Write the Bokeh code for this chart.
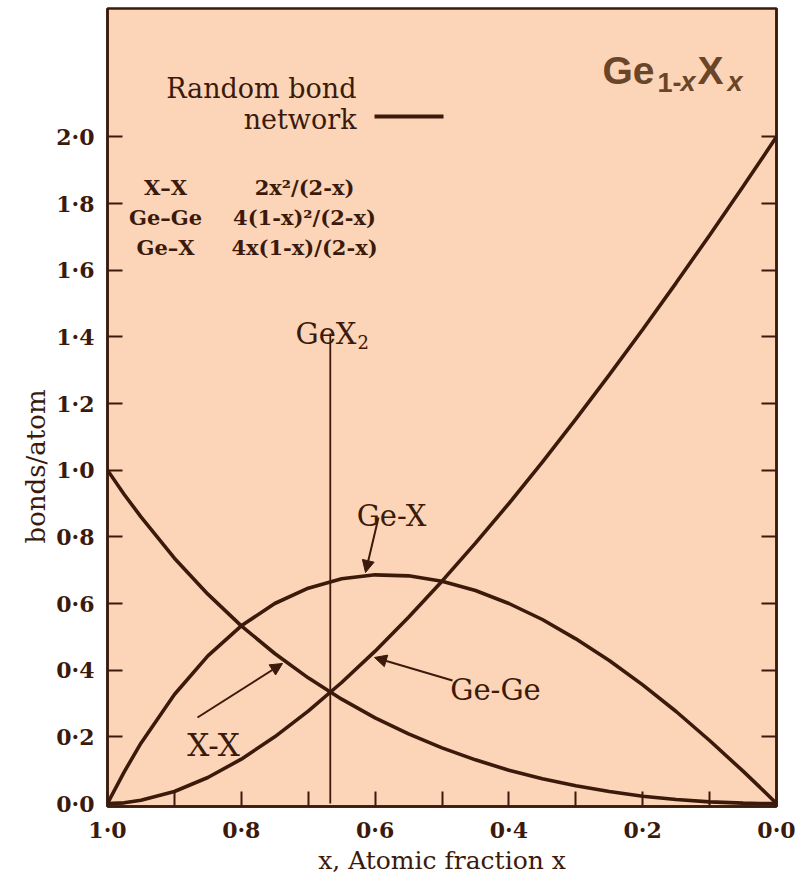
import math
from bokeh.plotting import figure
from bokeh.models import (Range1d, LinearAxis, FixedTicker, Label, Arrow, Title,
                          NormalHead, CustomJSTickFormatter)
from bokeh.embed import file_html
from bokeh.resources import INLINE

# ---------------- data ----------------
x_frac = [1.000, 0.975, 0.95, 0.90, 0.85, 0.80, 0.75, 0.70, 0.65, 0.60, 0.55, 0.50,
          0.45, 0.40, 0.35, 0.30, 0.25, 0.20, 0.15, 0.10, 0.05, 0.025, 0.000]
xx_bonds = [1.000, 0.927, 0.860, 0.736, 0.628, 0.533, 0.450, 0.377, 0.313, 0.257, 0.209, 0.167,
            0.131, 0.100, 0.074, 0.053, 0.036, 0.022, 0.012, 0.005, 0.001, 0.000, 0.000]
gege_bonds = [0.000, 0.002, 0.010, 0.036, 0.078, 0.133, 0.200, 0.277, 0.363, 0.457, 0.559, 0.667,
              0.781, 0.900, 1.024, 1.153, 1.286, 1.422, 1.562, 1.705, 1.851, 1.925, 2.000]
gex_bonds = [0.000, 0.095, 0.181, 0.327, 0.443, 0.533, 0.600, 0.646, 0.674, 0.686, 0.683, 0.667,
             0.639, 0.600, 0.552, 0.494, 0.429, 0.356, 0.276, 0.189, 0.097, 0.049, 0.000]

gex2_x = [0.667]          # GeX2 composition marker
gex2_top = [1.41]

x_ticks = [1.0, 0.8, 0.6, 0.4, 0.2, 0.0]
x_minor_ticks = [0.9, 0.7, 0.5, 0.3, 0.1]
y_ticks = [0.0, 0.2, 0.4, 0.6, 0.8, 1.0, 1.2, 1.4, 1.6, 1.8, 2.0]

table_names = ["X\u2013X", "Ge\u2013Ge", "Ge\u2013X"]
table_formulas = ["2x\u00b2/(2-x)", "4(1-x)\u00b2/(2-x)", "4x(1-x)/(2-x)"]

# ---------------- style / layout ----------------
DARK = "#3B1A0C"
PEACH = "#FCD5B8"
TITLE_C = "#6B4528"
SERIF = "DejaVu Serif"

FRAME_L, FRAME_W = 107, 669      # page px
Y0_PX, PX_PER_UNIT = 803, 333.3


def dx(px):
    return 1.0 - (px - FRAME_L) / FRAME_W


def dy(py):
    return (Y0_PX - py) / PX_PER_UNIT


p = figure(frame_width=669, frame_height=798,
           min_border_left=107, min_border_right=25, min_border_top=8, min_border_bottom=68,
           x_range=Range1d(1.0, 0.0), y_range=Range1d(-0.009, 2.385),
           output_backend="svg", toolbar_location=None,
           background_fill_color=PEACH, border_fill_color="white")
p.outline_line_color = DARK
p.outline_line_width = 2.5
p.xgrid.visible = False
p.ygrid.visible = False

fmt = CustomJSTickFormatter(code="return tick.toFixed(1).replace('.', '\u00b7');")


def style_axis(ax):
    ax.axis_line_color = DARK
    ax.axis_line_width = 2.5
    ax.major_tick_line_color = DARK
    ax.major_tick_line_width = 2
    ax.minor_tick_line_color = DARK
    ax.minor_tick_line_width = 2
    ax.major_tick_in = 15
    ax.major_tick_out = 0
    ax.minor_tick_in = 15
    ax.minor_tick_out = 0
    ax.major_label_text_font = SERIF
    ax.major_label_text_font_style = "bold"
    ax.major_label_text_font_size = "22px"
    ax.major_label_text_color = DARK


xa = p.xaxis[0]
xa.ticker = FixedTicker(ticks=x_ticks, minor_ticks=x_minor_ticks)
xa.formatter = fmt
style_axis(xa)
xa.major_label_standoff = 10
xa.axis_label = "x, Atomic fraction x"
xa.axis_label_text_font = SERIF
xa.axis_label_text_font_style = "normal"
xa.axis_label_text_font_size = "25px"
xa.axis_label_text_color = DARK
xa.axis_label_standoff = 0

ya = p.yaxis[0]
ya.ticker = FixedTicker(ticks=y_ticks, minor_ticks=[])
ya.formatter = fmt
style_axis(ya)
ya.major_label_standoff = 13

ra = LinearAxis(ticker=FixedTicker(ticks=y_ticks, minor_ticks=[]),
                formatter=CustomJSTickFormatter(code="return '';"))
style_axis(ra)
ra.major_label_standoff = 0
p.add_layout(ra, "right")

p.add_layout(Title(text="bonds/atom", align="left", offset=263, standoff=6,
                   text_font=SERIF, text_font_size="26px", text_font_style="normal",
                   text_color=DARK), "left")

# ---------------- curves ----------------
for ys in (xx_bonds, gege_bonds, gex_bonds):
    p.line(x_frac, ys, line_color=DARK, line_width=3.6)

p.segment(x0=gex2_x, y0=[0.0], x1=gex2_x, y1=gex2_top, line_color=DARK, line_width=1.8)


# ---------------- text ----------------
def lab(text, px, py, size, align="left", baseline="alphabetic", font=SERIF,
        style="normal", color=DARK):
    p.add_layout(Label(x=dx(px), y=dy(py), text=text, text_font=font,
                       text_font_size=f"{size}px", text_font_style=style,
                       text_color=color, text_align=align, text_baseline=baseline))


lab("Random bond", 356, 88, 27, align="right")
lab("network", 356, 119, 27, align="right")
p.segment(x0=[dx(374)], y0=[dy(116)], x1=[dx(443)], y1=[dy(116)],
          line_color=DARK, line_width=4)

for i, (nm, fm) in enumerate(zip(table_names, table_formulas)):
    base = 187 + 30 * i
    lab(nm, 165, base, 21, align="center", style="bold")
    lab(fm, 304, base, 21, align="center", style="bold")

lab("GeX", 295, 334, 29)
lab("2", 357, 342, 18)
lab("Ge-X", 391, 516, 29, align="center")
lab("Ge-Ge", 495, 690, 29, align="center")
lab("X-X", 213, 745, 31, align="center")

# title formula Ge(1-x)X(x)
SANS = "Liberation Sans"
lab("Ge", 602, 70, 39, font=SANS, style="bold", color=TITLE_C)
lab("1-", 657, 82, 27, font=SANS, style="bold", color=TITLE_C)
lab("x", 680, 82, 27, font=SANS, style="bold italic", color=TITLE_C)
lab("X", 697, 70, 39, font=SANS, style="bold", color=TITLE_C)
lab("x", 727, 82, 27, font=SANS, style="bold italic", color=TITLE_C)

# arrows
for (x0, y0, x1, y1) in [(378, 517, 365, 572), (452, 680, 374, 657), (197, 717, 282, 663)]:
    p.add_layout(Arrow(x_start=dx(x0), y_start=dy(y0), x_end=dx(x1), y_end=dy(y1),
                       line_color=DARK, line_width=2,
                       end=NormalHead(size=12, fill_color=DARK, line_color=DARK)))

open("out.html", "w").write(file_html(p, INLINE))
